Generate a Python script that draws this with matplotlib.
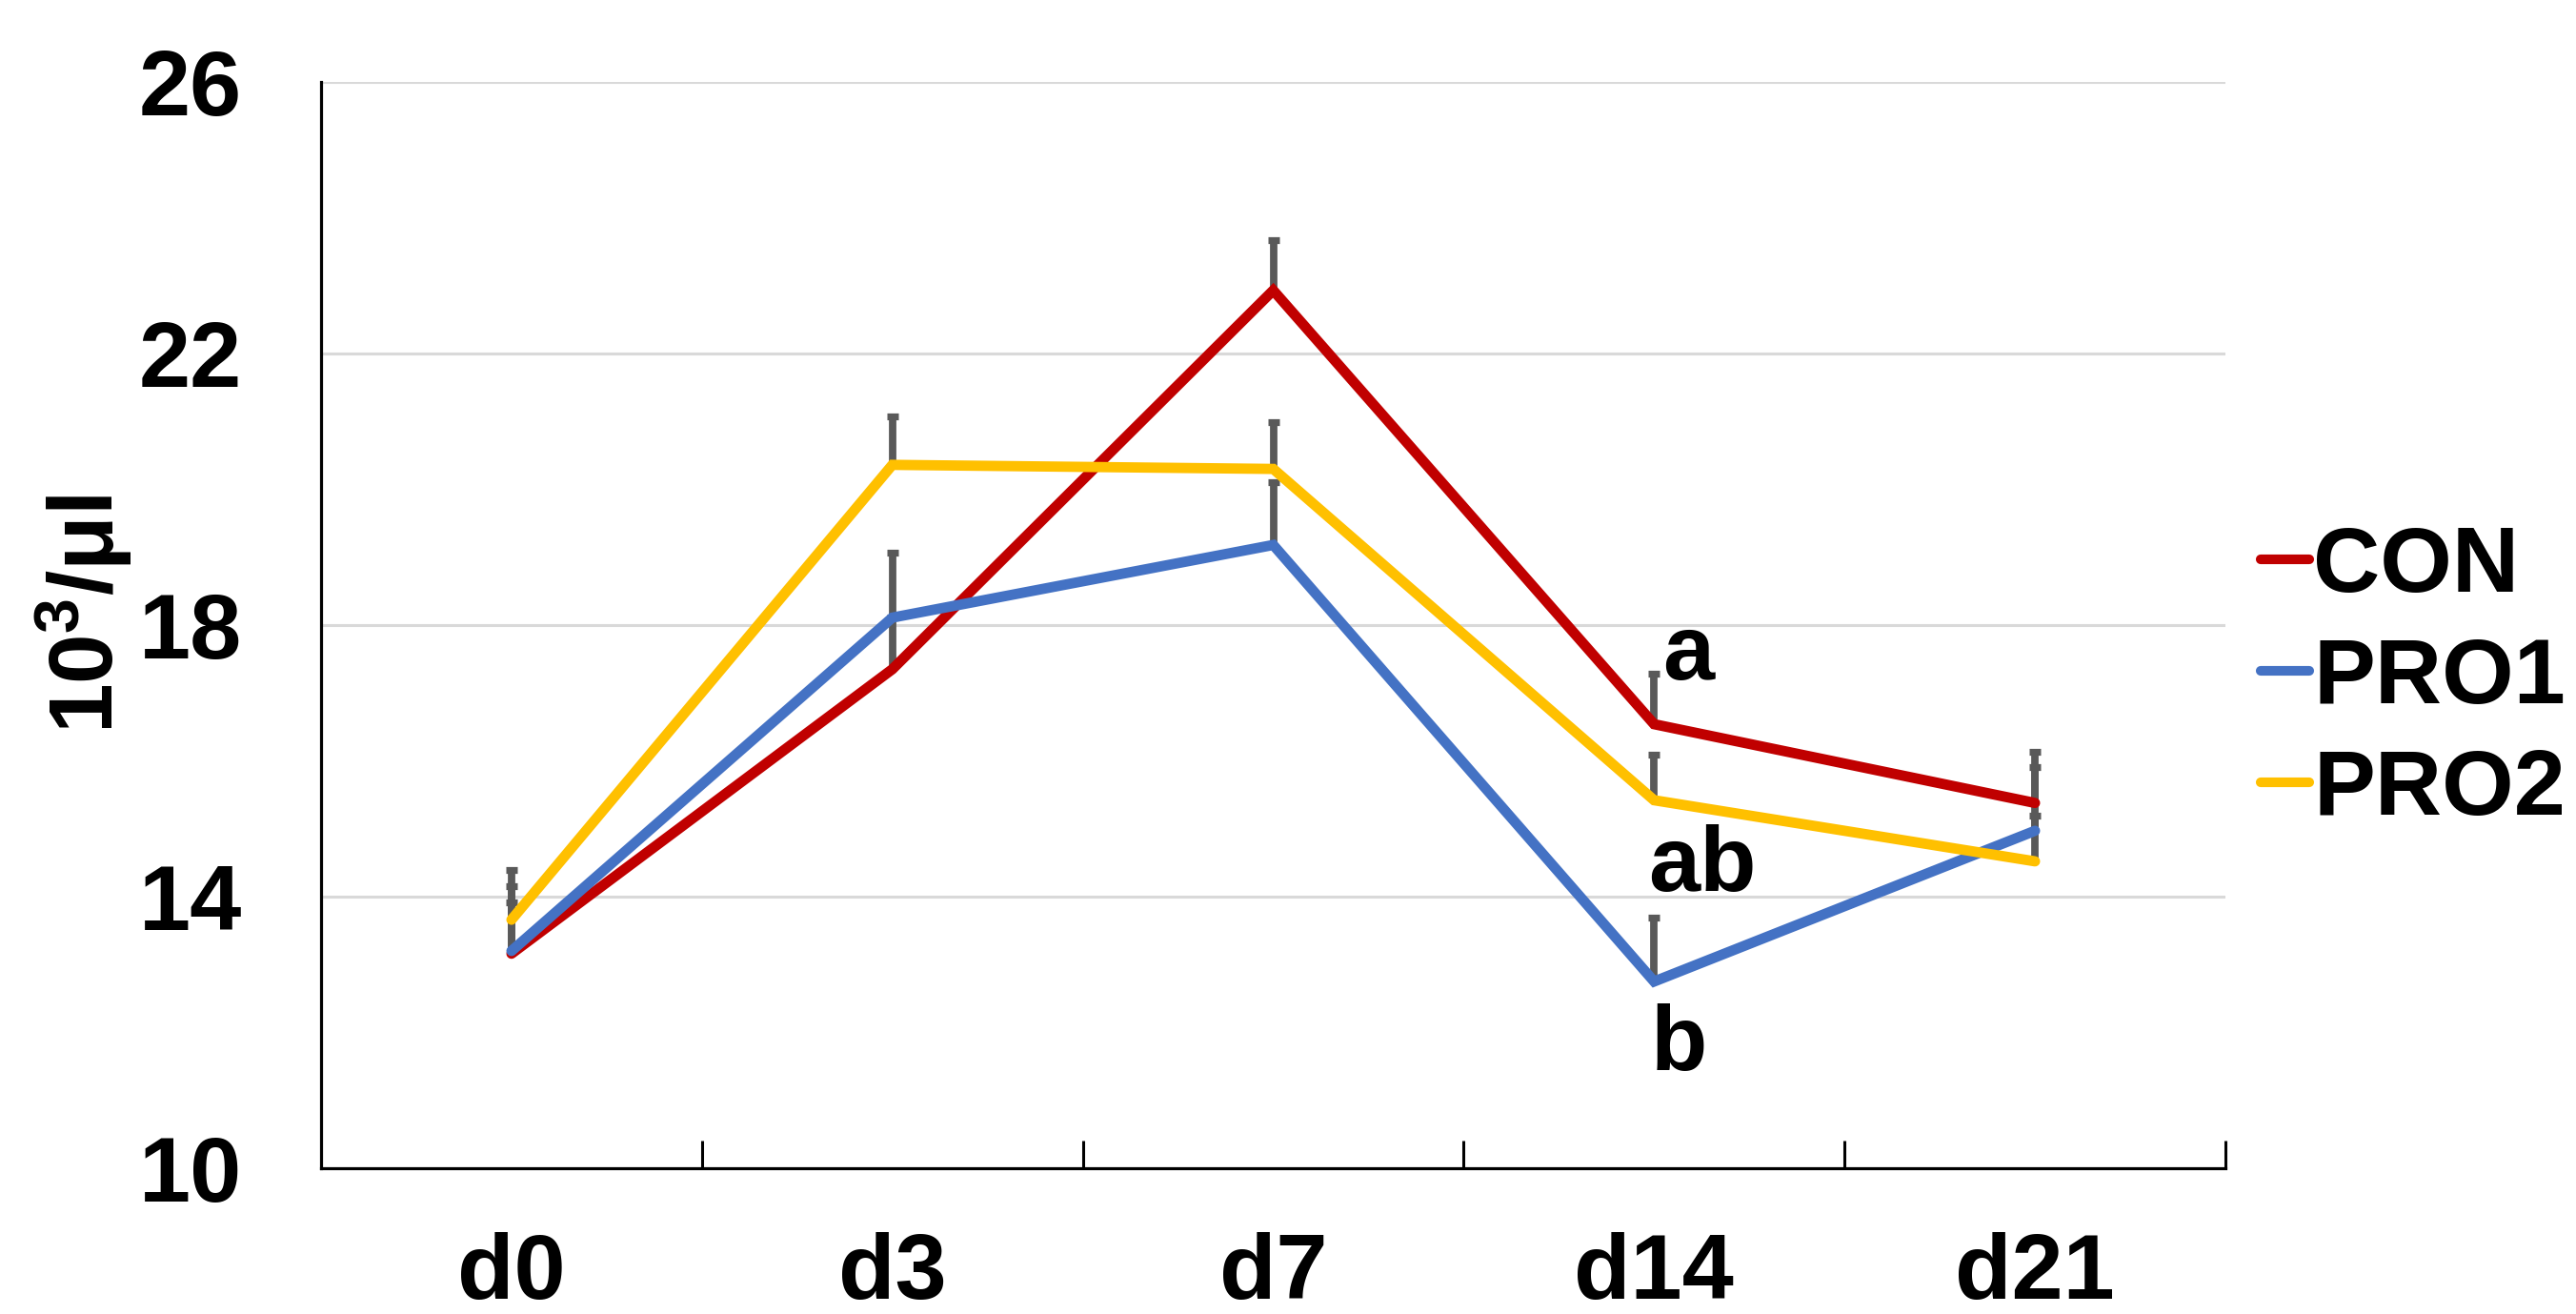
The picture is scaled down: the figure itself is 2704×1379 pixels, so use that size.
import matplotlib
matplotlib.use("Agg")
import matplotlib.pyplot as plt
import numpy as np

plt.rcParams['font.family'] = ['Liberation Sans', 'DejaVu Sans']
plt.rcParams['font.weight'] = 'bold'
plt.rcParams['mathtext.fontset'] = 'custom'
plt.rcParams['mathtext.rm'] = 'Liberation Sans:bold'
plt.rcParams['mathtext.bf'] = 'Liberation Sans:bold'
plt.rcParams['mathtext.it'] = 'Liberation Sans:bold'

# Sampling days and group means (10^3/µl) with upper standard errors
days = ["d0", "d3", "d7", "d14", "d21"]
groups = ["CON", "PRO1", "PRO2"]
con_mean = [13.16, 17.35, 22.93, 16.54, 15.38]
pro1_mean = [13.20, 18.11, 19.18, 12.75, 14.97]
pro2_mean = [13.66, 20.36, 20.30, 15.42, 14.52]
con_err = [0.76, 0.76, 0.74, 0.74, 0.75]
pro1_err = [0.95, 0.96, 0.93, 0.94, 0.94]
pro2_err = [0.73, 0.71, 0.69, 0.67, 0.67]
colors = ["#C00000", "#4472C4", "#FFC000"]

# Significance letters at d14
sig_labels = ["a", "ab", "b"]

y_ticks = [10, 14, 18, 22, 26]

fig = plt.figure(figsize=(27.04, 13.79), dpi=100)
ax = fig.add_axes([337 / 2704, 1 - 1226 / 1379, (2336 - 337) / 2704, (1226 - 86) / 1379])

x = np.arange(len(days))
means = [con_mean, pro1_mean, pro2_mean]
errs = [con_err, pro1_err, pro2_err]

# Upper error bars, drawn beneath the lines
for m, e in zip(means, errs):
    m = np.asarray(m)
    e = np.asarray(e)
    ax.vlines(x, m, m + e, colors="#595959", linewidth=5.6, zorder=2)
    ax.plot(x, m + e, linestyle="none", marker="_", markersize=9,
            markeredgewidth=5.2, color="#595959", zorder=2)

for name, m, c in zip(groups, means, colors):
    ax.plot(x, m, color=c, linewidth=7.8, label=name, zorder=3,
            solid_capstyle="round", solid_joinstyle="miter")

# Letters at d14
ax.text(3.09, 17.20, sig_labels[0], fontsize=70, fontweight="bold",
        ha="center", va="baseline", zorder=4)
ax.text(3.127, 14.08, sig_labels[1], fontsize=70, fontweight="bold",
        ha="center", va="baseline", zorder=4)
ax.text(3.064, 11.45, sig_labels[2], fontsize=70, fontweight="bold",
        ha="center", va="baseline", zorder=4)

ax.set_xlim(-0.5, len(days) - 0.5)
ax.set_ylim(10, 26)
ax.set_yticks(y_ticks)
ax.set_yticklabels([str(t) for t in y_ticks])
ax.set_xticks(x)
ax.set_xticklabels(days)
ax.set_xticks(x + 0.5, minor=True)

for t in y_ticks[1:]:
    ax.axhline(t, color="#D9D9D9", linewidth=2.2, zorder=1)

for side in ["top", "right"]:
    ax.spines[side].set_visible(False)
for side in ["left", "bottom"]:
    ax.spines[side].set_linewidth(2.3)
    ax.spines[side].set_color("black")
    ax.spines[side].set_zorder(5)

ax.tick_params(axis="y", which="major", length=0, pad=60, labelsize=70)
ax.tick_params(axis="x", which="major", length=0, pad=48, labelsize=70)
ax.tick_params(axis="x", which="minor", direction="in", length=21, width=2.2,
               color="black")
for lab in ax.get_xticklabels() + ax.get_yticklabels():
    lab.set_fontweight("bold")

fig.text(88 / 2704, 1 - 645 / 1379, r"10$^{3}$/μl", rotation=90, fontsize=68,
         fontweight="bold", ha="center", va="center")

leg = ax.legend(loc="center left", bbox_to_anchor=(1.0185, 0.45), frameon=False,
                fontsize=70, handlelength=0.52, handletextpad=0.05,
                labelspacing=0.28, borderpad=0, borderaxespad=0)
for txt in leg.get_texts():
    txt.set_fontweight("bold")
for h in leg.get_lines():
    h.set_linewidth(7.3)
    h.set_solid_capstyle("round")

fig.savefig("out.png", dpi=100, facecolor="white")
